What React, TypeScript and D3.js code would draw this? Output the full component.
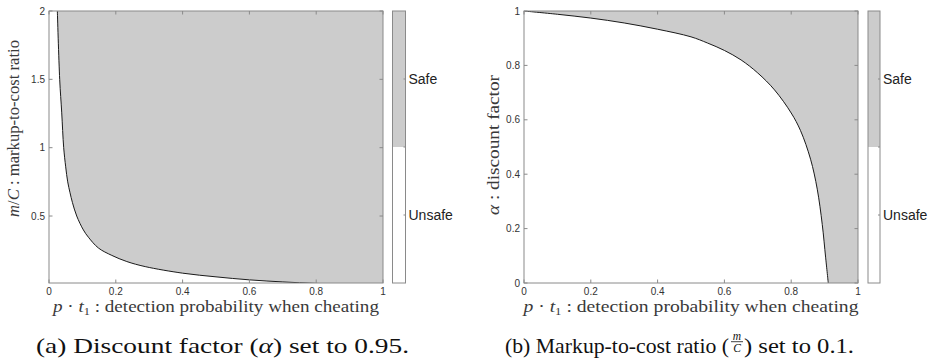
import React from 'react';
import * as d3 from 'd3';

// x axis shared by both panels
const xTicks = [0, 0.2, 0.4, 0.6, 0.8, 1];
const xTickLabels = ['0', '0.2', '0.4', '0.6', '0.8', '1'];

// (a) markup-to-cost threshold vs p*t1, alpha = 0.95
const leftX = [0.025, 0.032, 0.038, 0.044, 0.05, 0.056, 0.063, 0.07, 0.083, 0.103, 0.118, 0.148, 0.188, 0.233, 0.288, 0.4, 0.5, 0.6, 0.7, 0.8, 0.9, 1.0];
const leftY = [2.0, 1.5, 1.26, 1.0, 0.86, 0.75, 0.67, 0.6, 0.5, 0.398, 0.345, 0.266, 0.212, 0.167, 0.13, 0.082, 0.055, 0.033, 0.018, 0.007, 0.002, 0];
const leftYTicks = [0.5, 1, 1.5, 2];
const leftYTickLabels = ['0.5', '1', '1.5', '2'];

// (b) discount factor threshold vs p*t1, m/C = 0.1
const rightX = [0, 0.1, 0.2, 0.3, 0.4, 0.5, 0.55, 0.6, 0.65, 0.7, 0.75, 0.8, 0.828, 0.858, 0.878, 0.893, 0.903, 0.911];
const rightY = [1, 0.988, 0.974, 0.956, 0.933, 0.905, 0.882, 0.855, 0.82, 0.772, 0.71, 0.625, 0.56, 0.455, 0.345, 0.215, 0.095, 0];
const rightYTicks = [0, 0.2, 0.4, 0.6, 0.8, 1];
const rightYTickLabels = ['0', '0.2', '0.4', '0.6', '0.8', '1'];

const colorbarLabels = ['Safe', 'Unsafe'];

const FILL = '#cccccc';
const AXIS = '#8a8a8a';
const TICKTXT = '#333';
const LABEL = '#3a3a3a';
const SANS = "'Liberation Sans', Arial, sans-serif";
const SERIF = "'Liberation Serif', 'Times New Roman', serif";

type PanelProps = {
  id: string;
  x0: number; x1: number; top: number; bottom: number;
  yDomain: [number, number];
  yTicks: number[]; yTickLabels: string[];
  xs: number[]; ys: number[];
  mode: 'left' | 'right';
  cbX: number; cbW: number;
  xLabelLen: number;
};

const Panel = ({ id, x0, x1, top, bottom, yDomain, yTicks, yTickLabels, xs, ys, mode, cbX, cbW, xLabelLen }: PanelProps) => {
  const x = d3.scaleLinear().domain([0, 1]).range([x0, x1]);
  const y = d3.scaleLinear().domain(yDomain).range([bottom, top]);
  const pts: [number, number][] = xs.map((v, i) => [v, ys[i]]);
  const line = d3.line<[number, number]>()
    .x(d => x(d[0]))
    .y(d => y(d[1]))
    .curve(d3.curveCatmullRom.alpha(0.5));
  const curvePath = line(pts) || '';
  const yMax = yDomain[1];
  const fillPath = mode === 'left'
    ? `${curvePath}L${x(1)},${y(yMax)}L${x(xs[0])},${y(yMax)}Z`
    : `${curvePath}L${x(1)},${y(0)}L${x(1)},${y(yMax)}Z`;
  const tl = 3.5;
  const cbMid = (top + bottom) / 2;
  const cbQ = [top + (bottom - top) / 4, cbMid, top + 3 * (bottom - top) / 4];

  return (
    <g>
      <defs>
        <clipPath id={`clip-${id}`}>
          <rect x={x0} y={top} width={x1 - x0} height={bottom - top} />
        </clipPath>
      </defs>
      <rect x={x0} y={top} width={x1 - x0} height={bottom - top} fill="#fff" />
      <g clipPath={`url(#clip-${id})`}>
        <path d={fillPath} fill={FILL} stroke="none" />
        <path d={curvePath} fill="none" stroke="#1a1a1a" strokeWidth={1} />
      </g>

      {/* ticks, MATLAB style inside the box on all four sides */}
      {xTicks.map(t => (
        <g key={`xt${t}`}>
          <line x1={x(t)} x2={x(t)} y1={bottom} y2={bottom - tl} stroke={AXIS} />
          <line x1={x(t)} x2={x(t)} y1={top} y2={top + tl} stroke={AXIS} />
        </g>
      ))}
      {yTicks.map(t => (
        <g key={`yt${t}`}>
          <line x1={x0} x2={x0 + tl} y1={y(t)} y2={y(t)} stroke={AXIS} />
          <line x1={x1} x2={x1 - tl} y1={y(t)} y2={y(t)} stroke={AXIS} />
        </g>
      ))}
      <rect x={x0} y={top} width={x1 - x0} height={bottom - top} fill="none" stroke={AXIS} strokeWidth={1} />

      {xTicks.map((t, i) => (
        <text key={`xl${t}`} x={x(t)} y={bottom + 12} textAnchor="middle" fontFamily={SANS} fontSize={10} fill={TICKTXT}>
          {xTickLabels[i]}
        </text>
      ))}
      {yTicks.map((t, i) => (
        <text key={`yl${t}`} x={x0 - 4} y={y(t) + 3.5} textAnchor="end" fontFamily={SANS} fontSize={10} fill={TICKTXT}>
          {yTickLabels[i]}
        </text>
      ))}

      <text x={(x0 + x1) / 2} y={312} textAnchor="middle" fontFamily={SERIF} fontSize={17} fill={LABEL}
        textLength={xLabelLen} lengthAdjust="spacingAndGlyphs">
        <tspan fontStyle="italic">p</tspan> · <tspan fontStyle="italic">t</tspan>
        <tspan fontSize={11} dy={3}>1</tspan>
        <tspan dy={-3}> : detection probability when cheating</tspan>
      </text>

      {/* colorbar */}
      <rect x={cbX} y={top} width={cbW} height={cbMid - top} fill={FILL} />
      <rect x={cbX} y={cbMid} width={cbW} height={bottom - cbMid} fill="#fff" />
      {cbQ.map((q, i) => (
        <line key={`cbt${i}`} x1={cbX + cbW} x2={cbX + cbW - 2} y1={q} y2={q} stroke={AXIS} />
      ))}
      <rect x={cbX} y={top} width={cbW} height={bottom - top} fill="none" stroke={AXIS} />
      {colorbarLabels.map((lab, i) => (
        <text key={lab} x={cbX + cbW + 3} y={cbQ[i * 2] + 5} fontFamily={SANS} fontSize={14} fill="#222">
          {lab}
        </text>
      ))}
    </g>
  );
};

export default function App() {
  return (
    <svg width={932} height={361} viewBox="0 0 932 361"
      style={{ position: 'absolute', left: 0, top: 0, background: '#fff' }}>
      <Panel id="a" x0={49} x1={383} top={11} bottom={283} yDomain={[0.01, 2]}
        yTicks={leftYTicks} yTickLabels={leftYTickLabels} xs={leftX} ys={leftY}
        mode="left" cbX={392.5} cbW={13} xLabelLen={326} />
      <Panel id="b" x0={524} x1={858} top={11} bottom={283} yDomain={[0, 1]}
        yTicks={rightYTicks} yTickLabels={rightYTickLabels} xs={rightX} ys={rightY}
        mode="right" cbX={868} cbW={12} xLabelLen={335} />

      {/* y axis labels */}
      <text transform="translate(19,128.5) rotate(-90)" textAnchor="middle" fontFamily={SERIF} fontSize={17}
        fill={LABEL} textLength={177} lengthAdjust="spacingAndGlyphs">
        <tspan fontStyle="italic">m</tspan>/<tspan fontStyle="italic">C</tspan> : markup-to-cost ratio
      </text>
      <text transform="translate(499,145) rotate(-90)" textAnchor="middle" fontFamily={SERIF} fontSize={17}
        fill={LABEL} textLength={140} lengthAdjust="spacingAndGlyphs">
        <tspan fontStyle="italic">α</tspan> : discount factor
      </text>

      {/* captions */}
      <text x={222.5} y={352.5} textAnchor="middle" fontFamily={SERIF} fontSize={22} fill="#111"
        textLength={373} lengthAdjust="spacingAndGlyphs">
        (a) Discount factor (<tspan fontStyle="italic">α</tspan>) set to 0.95.
      </text>
      <text x={505} y={352.5} fontFamily={SERIF} fontSize={22} fill="#111"
        textLength={224} lengthAdjust="spacingAndGlyphs">
        (b) Markup-to-cost ratio (
      </text>
      <text x={737} y={339.5} textAnchor="middle" fontFamily={SERIF} fontSize={11.5} fontStyle="italic" fill="#111">m</text>
      <line x1={731} x2={743} y1={341.7} y2={341.7} stroke="#111" strokeWidth={0.8} />
      <text x={737} y={351.5} textAnchor="middle" fontFamily={SERIF} fontSize={11.5} fontStyle="italic" fill="#111">C</text>
      <text x={744} y={352.5} fontFamily={SERIF} fontSize={22} fill="#111"
        textLength={110} lengthAdjust="spacingAndGlyphs">
        ) set to 0.1.
      </text>
    </svg>
  );
}
